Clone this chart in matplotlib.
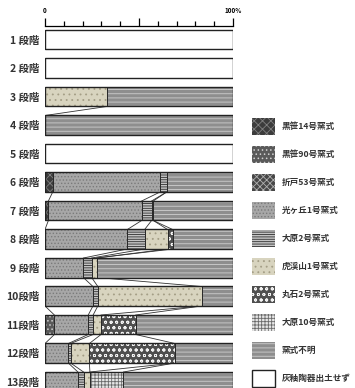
import matplotlib
matplotlib.use("Agg")
import matplotlib.pyplot as plt

plt.rcParams['font.family'] = ['Noto Sans CJK JP', 'DejaVu Sans']
plt.rcParams['hatch.linewidth'] = 0.6

# --- data: share (%) of each kiln type per stage, left to right ---
stages = ["1 段階", "2 段階", "3 段階", "4 段階", "5 段階", "6 段階", "7 段階",
          "8 段階", "9 段階", "10段階", "11段階", "12段階", "13段階"]
types = ["黒笹14号窯式", "黒笹90号窯式", "折戸53号窯式", "光ヶ丘1号窯式", "大原2号窯式",
         "虎渓山1号窯式", "丸石2号窯式", "大原10号窯式", "窯式不明", "灰釉陶器出土せず"]

k14 = [0, 0, 0, 0, 0, 4.1, 1.8, 0, 0, 0, 0, 0, 0]
k90 = [0, 0, 0, 0, 0, 0, 0, 0, 0, 0, 5.0, 0, 0]
o53 = [0, 0, 0, 0, 0, 0, 0, 0, 0, 0, 0, 0, 0]
h1 = [0, 0, 0, 0, 0, 57.1, 49.6, 43.8, 20.4, 25.5, 18.0, 12.4, 17.5]
oh2 = [0, 0, 0, 0, 0, 3.5, 5.3, 9.2, 4.4, 2.6, 2.6, 1.2, 3.0]
ko1 = [0, 0, 32.8, 0, 0, 0, 0.9, 12.2, 2.7, 55.2, 4.2, 10.0, 3.4]
mr2 = [0, 0, 0, 0, 0, 0, 0, 2.7, 0, 0, 18.4, 45.5, 0]
oh10 = [0, 0, 0, 0, 0, 0, 0, 0, 0, 0, 0, 0, 17.8]
unknown = [0, 0, 67.2, 100, 0, 35.3, 42.4, 32.1, 72.5, 16.7, 51.8, 30.9, 58.3]
none = [100, 100, 0, 0, 100, 0, 0, 0, 0, 0, 0, 0, 0]

series = [k14, k90, o53, h1, oh2, ko1, mr2, oh10, unknown, none]

# (facecolor, hatch, hatch colour) per kiln type
styles = [
    ("#3c3c3c", "xxxx", "#808080"),
    ("#5a5a5a", "....", "#d0d0d0"),
    ("#474747", "xxxxx", "#b0b0b0"),
    ("#a7a7a7", ".....", "#7a7a7a"),
    ("#c4c4c4", "-------", "#2e2e2e"),
    ("#d8d4bf", "...", "#a49e86"),
    ("#4e4e4e", "ooo", "#f2f2f2"),
    ("#e6e6e6", "+++++", "#6a6a6a"),
    ("#8e8e8e", "----", "#cfcfcf"),
    ("white", None, "white"),
]

W, H = 355, 388
fig = plt.figure(figsize=(W / 100, H / 100), dpi=100)

# main axes: x 0..100 -> px 45..233, row spacing 28.5 px
row_px, first_c, top_px = 28.5, 39.75, 25.5
bottom_val = (H - first_c) / row_px
ax = fig.add_axes([45 / W, 0, 188 / W, (H - top_px) / H])
ax.set_xlim(0, 100)
ax.set_ylim(bottom_val, -0.5)
bh = 19.5 / row_px

n = len(stages)
ypos = list(range(n))
lefts = [0.0] * n
ends = []
for vals, (fc, hatch, hc) in zip(series, styles):
    ax.barh(ypos, vals, left=lefts, height=bh, color=fc, hatch=hatch,
            edgecolor=hc, linewidth=0, zorder=2)
    ax.barh(ypos, vals, left=lefts, height=bh, fill=False,
            edgecolor="#2a2a2a", linewidth=0.7, zorder=3)
    lefts = [l + v for l, v in zip(lefts, vals)]
    ends.append(list(lefts))

# outer frame of each bar
ax.barh(ypos, [100] * n, height=bh, fill=False, edgecolor="#222222",
        linewidth=1.0, zorder=4)

# connector lines between same-type boundaries of adjacent stages
for i in range(n - 1):
    if none[i] > 0 or none[i + 1] > 0:
        continue
    for k in range(len(series) - 2):
        if series[k][i] == 0 and series[k][i + 1] == 0:
            continue
        ax.plot([ends[k][i], ends[k][i + 1]], [i + bh / 2, i + 1 - bh / 2],
                color="#333333", lw=0.6, zorder=1)

# top scale
ax.xaxis.tick_top()
for s in ["left", "right", "bottom"]:
    ax.spines[s].set_visible(False)
ax.spines["top"].set_linewidth(0.9)
ax.set_xticks([0, 50, 100])
ax.set_xticklabels(["0", "", "100%"], fontsize=4.5, fontweight="bold")
ax.set_xticks(range(10, 100, 10), minor=True)
ax.tick_params(axis="x", which="major", length=6, width=0.9, pad=2)
ax.tick_params(axis="x", which="minor", length=3.5, width=0.9, top=True, bottom=False)

ax.set_yticks(ypos)
ax.set_yticklabels(stages, fontsize=7.5, fontweight="bold", color="#333333")
ax.tick_params(axis="y", length=0, pad=4)

# legend panel drawn as its own axes
lax = fig.add_axes([245 / W, 0, 110 / W, (H - 112) / H])
lax.set_xlim(0, 1)
lax.set_ylim((H - 126) / 28, -0.5)
lax.axis("off")
idx = list(range(len(types)))
for k, (fc, hatch, hc) in enumerate(styles):
    if hatch is None:
        lax.barh(k, 0.209, left=0.064, height=17 / 28, color="white",
                 edgecolor="#222222", linewidth=1.0)
    else:
        lax.barh(k, 0.209, left=0.064, height=17 / 28, color=fc, hatch=hatch,
                 edgecolor=hc, linewidth=0)
    lax.text(0.336, k, types[k], fontsize=6.2, fontweight="bold",
             color="#333333", va="center", ha="left")

fig.savefig("out.png", dpi=100)
